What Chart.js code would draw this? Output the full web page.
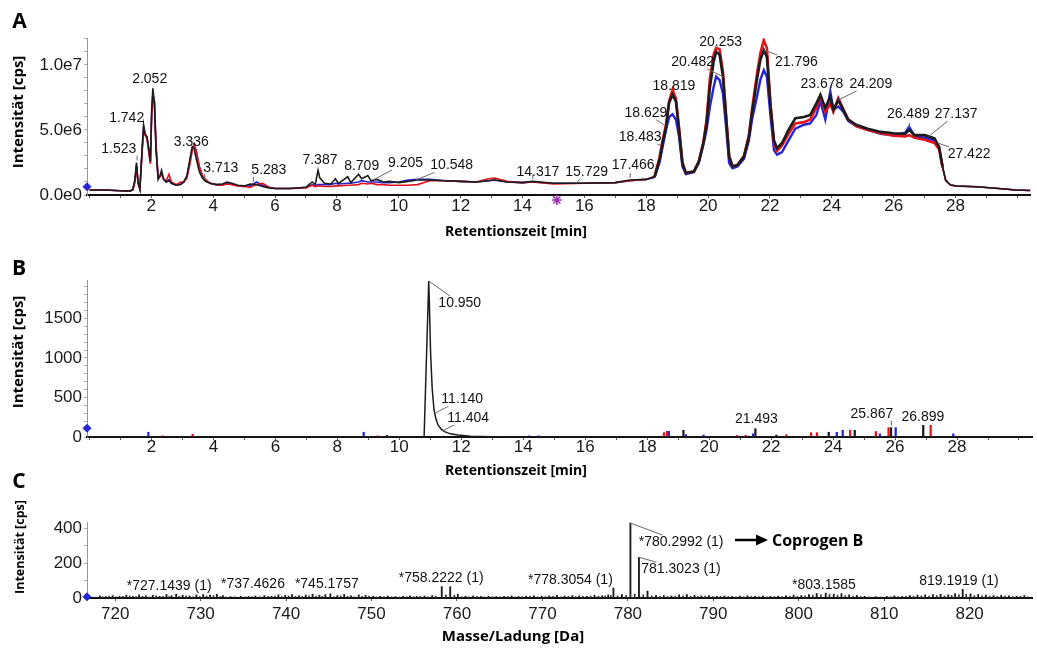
<!DOCTYPE html>
<html><head><meta charset="utf-8">
<script src="https://cdn.jsdelivr.net/npm/chart.js@4.4.1/dist/chart.umd.min.js"></script>
<style>
html,body{margin:0;padding:0;background:#fff;}
#wrap{position:relative;width:1037px;height:653px;overflow:hidden;background:#fff;}
canvas{position:absolute;left:0;}
</style></head><body>
<div id="wrap">
<canvas id="cA" width="1037" height="250" style="top:0px;width:1037px;height:250px"></canvas>
<canvas id="cB" width="1037" height="240" style="top:250px;width:1037px;height:240px"></canvas>
<canvas id="cC" width="1037" height="193" style="top:460px;width:1037px;height:193px"></canvas>
</div>
<script>
// ================= DATA =================
// ---- Panel A: total ion chromatograms (values in units of 1e6 cps) ----
const timesA = [
  0, 0.5, 1.0, 1.3, 1.40,
  1.47, 1.52, 1.57, 1.63, 1.70, 1.75, 1.80, 1.86, 1.93, 1.97,
  2.01, 2.05, 2.10, 2.15, 2.22, 2.28, 2.33, 2.40, 2.48, 2.57,
  2.65, 2.80, 2.95, 3.05, 3.15, 3.25, 3.32, 3.38, 3.45, 3.55,
  3.65, 3.75, 3.90, 4.10, 4.30, 4.45, 4.60, 4.80, 5.00, 5.20,
  5.40, 5.60, 5.80, 6.00, 6.50, 7.00, 7.20, 7.30, 7.39, 7.45,
  7.60, 7.80, 7.95, 8.05, 8.35, 8.45, 8.70, 8.80, 9.00, 9.10,
  9.30, 9.50, 9.70, 10.0, 10.3, 10.6, 11.0, 11.5, 12.0, 12.5,
  12.9, 13.1, 13.5, 14.0, 14.32, 15.0, 16.0, 17.0, 17.47, 18.0,
  18.27, 18.43, 18.53, 18.64, 18.74, 18.85, 18.96, 19.06, 19.17, 19.28,
  19.54, 19.70, 19.85, 19.95, 20.06, 20.18, 20.26, 20.37, 20.48, 20.58,
  20.68, 20.79, 20.95, 21.16, 21.32, 21.42, 21.58, 21.69, 21.80, 21.90,
  22.02, 22.13, 22.23, 22.39, 22.60, 22.82, 23.10, 23.30, 23.50, 23.63,
  23.79, 23.95, 24.05, 24.21, 24.37, 24.53, 24.79, 25.16, 25.58, 26.00,
  26.37, 26.50, 26.68, 27.00, 27.32, 27.47, 27.58, 27.68, 27.84, 28.05,
  28.68, 29.30, 29.95, 30.42
];
const blackA = [
  0.38, 0.38, 0.33, 0.30, 0.40,
  1.2, 2.5, 1.0, 0.45, 3.5, 5.4, 4.7, 4.5, 3.4, 2.6,
  6.5, 8.2, 7.0, 3.5, 1.2, 1.5, 1.9, 1.2, 1.0, 1.1,
  0.9, 0.75, 0.8, 1.0, 1.5, 2.8, 3.7, 3.6, 2.8, 1.8,
  1.3, 1.05, 0.9, 0.8, 0.85, 1.0, 0.9, 0.75, 0.7, 0.85,
  0.8, 0.65, 0.55, 0.5, 0.5, 0.6, 1.0, 0.8, 1.9, 1.3,
  0.9, 0.85, 1.25, 0.9, 1.4, 0.95, 1.6, 1.25, 1.5, 1.1,
  1.2, 1.0, 1.05, 0.95, 1.05, 1.15, 1.15, 1.1, 1.05, 1.0,
  1.1, 1.15, 1.0, 0.95, 1.05, 0.9, 0.9, 0.95, 1.15, 1.2,
  1.4, 2.7, 4.0, 5.25, 7.1, 7.7, 7.2, 5.0, 2.45, 1.7,
  1.8, 2.55, 4.0, 5.5, 8.3, 10.25, 11.0, 10.8, 9.1, 6.0,
  2.95, 2.2, 2.3, 2.95, 4.5, 6.3, 8.85, 10.4, 11.15, 10.6,
  6.8, 4.2, 3.6, 4.0, 5.0, 5.9, 6.0, 6.15, 7.05, 7.7,
  6.7, 7.55, 6.55, 7.3, 6.55, 5.8, 5.4, 5.1, 4.85, 4.75,
  4.7, 5.0, 4.6, 4.6, 4.35, 3.7, 2.2, 1.15, 0.77, 0.69,
  0.64, 0.52, 0.38, 0.35
];
const redA = [
  0.38, 0.38, 0.33, 0.30, 0.40,
  1.0, 2.2, 0.9, 0.45, 3.2, 5.0, 4.6, 4.3, 3.0, 2.4,
  6.0, 7.4, 7.2, 3.8, 1.3, 1.4, 1.6, 1.2, 1.1, 1.6,
  1.0, 0.8, 1.0, 1.0, 1.3, 2.4, 3.4, 3.9, 3.4, 2.2,
  1.5, 1.2, 0.9, 0.8, 0.75, 0.85, 0.8, 0.7, 0.65, 0.6,
  0.8, 0.9, 0.6, 0.5, 0.5, 0.55, 0.75, 0.65, 0.7, 0.7,
  0.65, 0.65, 0.7, 0.7, 0.75, 0.75, 0.8, 0.9, 0.85, 0.9,
  0.8, 0.8, 0.75, 0.75, 0.75, 0.8, 1.1, 1.1, 1.05, 1.0,
  1.25, 1.3, 1.05, 0.95, 1.0, 0.85, 0.9, 0.95, 1.1, 1.2,
  1.45, 2.9, 4.2, 5.4, 7.2, 8.1, 7.4, 5.2, 2.5, 1.7,
  1.8, 2.6, 4.1, 5.8, 9.0, 10.8, 11.3, 11.2, 9.5, 6.2,
  3.0, 2.2, 2.3, 3.0, 4.6, 6.6, 9.3, 10.9, 11.9, 11.3,
  6.9, 4.0, 3.4, 3.8, 4.7, 5.5, 5.6, 5.8, 6.7, 7.6,
  6.4, 7.0, 6.4, 7.45, 6.6, 5.8, 5.3, 5.0, 4.75, 4.55,
  4.5, 4.6, 4.4, 4.25, 4.0, 3.5, 2.1, 1.1, 0.75, 0.68,
  0.63, 0.52, 0.38, 0.35
];
const blueA = [
  0.38, 0.38, 0.33, 0.30, 0.40,
  1.1, 2.3, 1.0, 0.45, 3.4, 5.2, 4.6, 4.4, 3.2, 2.5,
  6.2, 7.8, 7.2, 3.9, 1.3, 1.4, 1.7, 1.2, 1.0, 1.2,
  0.9, 0.75, 0.85, 1.0, 1.4, 2.6, 3.5, 3.9, 3.4, 2.2,
  1.5, 1.15, 0.9, 0.8, 0.8, 0.9, 0.85, 0.7, 0.65, 0.7,
  1.0, 0.75, 0.6, 0.5, 0.5, 0.6, 0.8, 0.7, 0.8, 0.8,
  0.8, 0.8, 0.9, 0.85, 0.9, 0.9, 1.0, 1.1, 1.0, 1.0,
  1.0, 0.95, 0.95, 1.0, 1.15, 1.2, 1.2, 1.1, 1.05, 1.0,
  1.1, 1.15, 1.0, 0.95, 1.0, 0.9, 0.9, 0.95, 1.1, 1.2,
  1.35, 2.5, 3.7, 5.0, 6.0, 6.2, 5.8, 4.5, 2.2, 1.6,
  1.75, 2.45, 3.9, 5.0, 6.8, 8.3, 9.1, 8.85, 7.8, 5.25,
  2.45, 2.05, 2.2, 2.8, 4.2, 5.8, 7.55, 8.85, 9.6, 9.1,
  6.0, 3.45, 3.1, 3.3, 4.2, 5.1, 5.4, 5.5, 6.15, 7.2,
  5.8, 7.95, 6.55, 6.8, 6.4, 5.7, 5.3, 5.0, 4.7, 4.6,
  4.8, 5.25, 4.5, 4.4, 4.2, 3.6, 2.15, 1.12, 0.76, 0.69,
  0.64, 0.52, 0.38, 0.35
];
const markerA = [-0.08, 0.64];        // blue diamond at the axis (t, 1e6 cps)
const starA = [15.11, -0.385];        // purple asterisk under the axis
const xLabelsA = [2,4,6,8,10,12,14,16,18,20,22,24,26,28];
const yLabelsA = [0, 5e6, 1e7];
const peakTextA = ['1.523','1.742','2.052','3.336','3.713','5.283','7.387','8.709','9.205','10.548','14.317','15.729','17.466','18.483','18.629','18.819','20.253','20.482','21.796','23.678','24.209','26.489','27.137','27.422'];
const peakTA = [1.523,1.742,2.052,3.336,3.713,5.283,7.387,8.709,9.205,10.548,14.317,15.729,17.466,18.483,18.629,18.819,20.253,20.482,21.796,23.678,24.209,26.489,27.137,27.422];
const peakVA = [2.5,5.4,8.2,3.7,1.1,0.85,1.9,1.6,1.2,1.15,1.05,0.9,1.15,3.8,5.3,7.7,11.0,9.1,11.15,7.7,7.3,5.0,4.5,4.0];

// ---- Panel B: extracted ion chromatogram ----
const timesB = [-0.08, 10.80, 10.95, 10.97, 11.01, 11.06, 11.12, 11.18, 11.25, 11.35, 11.46, 11.65, 11.89, 12.30, 13.00, 14.00, 30.42];
const valsB  = [0, 0, 1975, 1700, 1060, 620, 342, 230, 152, 100, 67, 40, 25, 10, 3, 0, 0];
const blackSpikeT = [9.6, 19.17, 21.493, 22.17, 23.86, 24.7, 25.87, 26.91];
const blackSpikeH = [20, 85, 105, 25, 60, 85, 118, 148];
const redSpikeT = [2.35, 3.33, 9.3, 18.54, 18.64, 20.9, 21.18, 22.49, 23.29, 23.48, 24.55, 25.38, 25.79, 27.15];
const redSpikeH = [15, 35, 15, 55, 72, 20, 20, 30, 55, 55, 85, 70, 118, 148];
const blueSpikeT = [1.9, 8.85, 14.2, 14.5, 18.7, 19.25, 19.82, 21.42, 24.12, 24.31, 25.51, 26.02, 27.88];
const blueSpikeH = [60, 60, 15, 15, 72, 30, 25, 40, 60, 85, 40, 118, 40];
const markerB = [-0.08, 110];
const yLabelsB = [0, 500, 1000, 1500];
const peakTextB = ['10.950','11.140','11.404','21.493','25.867','26.899'];
const peakTB = [10.95, 11.14, 11.404, 21.493, 25.867, 26.899];
const peakVB = [1975, 300, 80, 105, 118, 148];

// ---- Panel C: mass spectrum ----
const massC = [
  718.2, 718.9, 719.7, 720.5, 721.3, 722.1, 722.8, 723.6, 724.4, 725.2,
  726.0, 726.6, 727.14, 727.9, 728.7, 729.5, 730.3, 731.1, 731.9, 732.6,
  733.5, 734.7, 735.6, 736.4, 737.46, 738.3, 739.1, 739.9, 740.7, 741.5,
  742.3, 743.1, 743.9, 744.6, 745.18, 746.0, 746.8, 747.6, 748.5, 749.3,
  750.2, 751.0, 751.9, 752.8, 753.7, 754.5, 755.3, 756.2, 757.1, 758.22,
  759.21, 760.1, 761.0, 761.9, 762.8, 763.7, 764.6, 765.5, 766.4, 767.2,
  768.1, 769.0, 769.9, 770.8, 771.7, 772.6, 773.5, 774.3, 775.2, 776.1,
  777.0, 777.7, 778.31, 779.3, 780.30, 781.30, 782.30, 783.3, 784.2, 785.1,
  786.0, 786.9, 787.8, 788.6, 789.5, 790.4, 791.3, 792.2, 793.1, 794.0,
  794.9, 795.8, 796.7, 797.6, 798.5, 799.4, 800.3, 801.2, 802.1, 803.16,
  804.1, 805.0, 805.9, 806.8, 807.7, 809.0, 810.3, 811.2, 812.1, 813.0,
  813.9, 814.8, 815.7, 816.6, 817.5, 818.3, 819.19, 820.1, 821.0, 821.9,
  822.8, 823.7, 824.6, 825.5, 826.4
];
const intC = [
  12, 8, 14, 10, 16, 9, 18, 12, 15, 10,
  20, 13, 22, 16, 12, 18, 20, 17, 21, 14,
  8, 10, 9, 12, 14, 10, 18, 15, 20, 13,
  17, 22, 16, 19, 24, 14, 21, 12, 18, 15,
  10, 9, 11, 8, 10, 12, 9, 11, 14, 65,
  65, 22, 10, 12, 9, 11, 8, 10, 12, 9,
  11, 13, 10, 12, 15, 11, 14, 12, 10, 16,
  13, 18, 57, 20, 430, 234, 40, 16, 14, 12,
  18, 20, 15, 12, 14, 10, 12, 9, 11, 13,
  10, 12, 9, 11, 13, 15, 14, 20, 26, 28,
  22, 25, 18, 15, 10, 8, 10, 12, 9, 14,
  16, 18, 20, 22, 18, 25, 50, 24, 20, 17,
  14, 16, 12, 10, 14
];
// minor (isotope/noise) sticks between the listed ones
const massC2 = [
  718.55, 719.3, 720.1, 720.9, 721.7, 722.45, 723.2, 724.0, 724.8, 725.6,
  726.3, 727.5, 728.3, 729.1, 729.9, 730.7, 731.5, 732.3, 733.0, 734.0,
  735.2, 736.0, 736.9, 737.9, 738.7, 739.5, 740.3, 741.1, 741.9, 742.7,
  743.5, 744.25, 745.6, 746.4, 747.2, 748.0, 748.9, 749.7, 750.6, 751.45,
  752.35, 753.25, 754.1, 754.9, 755.7, 756.6, 757.5, 758.7, 759.7, 760.55,
  761.45, 762.35, 763.25, 764.15, 765.05, 765.95, 766.8, 767.65, 768.55, 769.45,
  770.35, 771.25, 772.15, 773.05, 773.9, 774.75, 775.65, 776.55, 777.35, 778.0,
  778.8, 779.8, 780.8, 781.8, 782.8, 783.75, 784.65, 785.55, 786.45, 787.35,
  788.2, 789.05, 789.95, 790.85, 791.75, 792.65, 793.55, 794.45, 795.35, 796.25,
  797.15, 798.05, 798.95, 799.85, 800.75, 801.65, 802.6, 803.6, 804.55, 805.45,
  806.35, 807.25, 808.2, 809.6, 810.75, 811.65, 812.55, 813.45, 814.35, 815.25,
  816.15, 817.05, 817.9, 818.75, 819.6, 820.55, 821.45, 822.35, 823.25, 824.15,
  825.05, 825.95, 826.8
];
const intC2 = [
  7, 11, 6, 9, 12, 8, 10, 6, 13, 9,
  8, 10, 12, 7, 9, 11, 14, 8, 6, 7,
  6, 8, 7, 9, 11, 8, 12, 10, 9, 13,
  11, 9, 8, 12, 10, 7, 9, 11, 6, 8,
  7, 6, 8, 7, 9, 6, 10, 18, 16, 8,
  7, 9, 6, 8, 7, 9, 6, 8, 10, 7,
  8, 9, 7, 10, 8, 9, 11, 10, 12, 14,
  12, 16, 22, 18, 12, 10, 9, 11, 12, 10,
  9, 11, 8, 10, 9, 7, 8, 9, 8, 7,
  9, 8, 10, 9, 12, 16, 18, 20, 15, 14,
  11, 9, 7, 6, 7, 8, 9, 10, 12, 11,
  14, 12, 15, 18, 22, 14, 12, 10, 9, 11,
  8, 10, 7
];
const markerC = [716.7, 7];
const xLabelsC = [720, 730, 740, 750, 760, 770, 780, 790, 800, 810, 820];
const yLabelsC = [0, 200, 400];
const peakTextC = ['*727.1439 (1)','*737.4626','*745.1757','*758.2222 (1)','*778.3054 (1)','*780.2992 (1)','781.3023 (1)','*803.1585','819.1919 (1)'];
const peakMC = [727.1439, 737.4626, 745.1757, 758.2222, 778.3054, 780.2992, 781.3023, 803.1585, 819.1919];
const peakIC = [15, 12, 12, 65, 57, 430, 234, 28, 50];
const compoundName = 'Coprogen B';

// ================= STYLE / LAYOUT =================
const TICKF = '"Liberation Sans", Arial, sans-serif';
const TITLEF = '"Open Sans", sans-serif';
const BLACK = '#1c1c1c', RED = '#e3121b', BLUE = '#2424d8', PURPLE = '#9b30a8';

const layoutA = [
  [-17.8,-13.5,'mark'],[-16.7,-6.8,''],[-3.3,-9.4,''],[-1.3,-4.4,''],[16.4,-12.2,'mark'],[16,-14,'mark'],
  [2,-10.3,''],[2.8,-8.2,''],[31.4,-16.4,'leader'],[36,-14.5,'leader'],[5.6,-9.4,'mark'],[10.6,-11.3,'leader'],
  [3.5,-15,'mark'],[-21.1,-8.6,'leader'],[-19.7,-13.1,'leader'],[2.4,-8.9,''],[4.7,-10,''],[-30.4,-14.7,'leader'],
  [32.7,12,'leader'],[0,-10.9,''],[32.5,-16.1,'leader'],[-0.5,-16,'mark'],[27.3,-22.5,'leader'],[31.4,11,'leader']
];
const layoutB = [[31,22,'leader'],[27.6,-14,'leader'],[25.4,-12.7,'leader'],[1,-9.7,''],[-19,-13.7,'mark'],[0,-8.3,'']];
const layoutC = [[-7,-9.4,''],[-11.4,-12,''],[-3.5,-12,''],[-0.6,-8.7,''],[-43,-8,''],[50.7,19,'leader'],[42,12,'leader'],[-1.8,-8,''],[-3.8,-8.3,'']];

function pts(xs, ys, k) { return xs.map((x, i) => ({x: x, y: ys[i] * (k || 1)})); }
function tickRange(a, b, step) { const out = []; for (let i = 0; a + i * step <= b + 1e-9; i++) out.push(Math.round((a + i * step) * 1000) / 1000); return out; }
const near = (arr, v, eps) => arr.some(l => Math.abs(l - v) < eps);

function makeDeco(cfg) {
  return {
    id: 'deco' + cfg.letter,
    afterDraw(chart) {
      const ctx = chart.ctx, xs = chart.scales.x, ys = chart.scales.y;
      ctx.save();
      ctx.fillStyle = '#000'; ctx.textAlign = 'center'; ctx.textBaseline = 'middle';
      ctx.font = 'bold 21px ' + TITLEF;
      ctx.fillText(cfg.letter, cfg.letterPos[0], cfg.letterPos[1]);
      ctx.font = 'bold ' + cfg.xTitleSize + 'px ' + TITLEF;
      ctx.fillText(cfg.xTitle, cfg.xTitlePos[0], cfg.xTitlePos[1]);
      ctx.save();
      ctx.translate(cfg.yTitlePos[0], cfg.yTitlePos[1]);
      ctx.rotate(-Math.PI / 2);
      ctx.font = 'bold ' + cfg.yTitleSize + 'px ' + TITLEF;
      ctx.fillText(cfg.yTitle, 0, 0);
      ctx.restore();
      ctx.font = '14px ' + TICKF;
      cfg.texts.forEach((txt, i) => {
        const ax = xs.getPixelForValue(cfg.ts[i]);
        const ay = ys.getPixelForValue(cfg.vs[i] * (cfg.k || 1));
        const L = cfg.layout[i];
        const cx = ax + L[0], cy = ay + L[1];
        ctx.fillStyle = '#111';
        ctx.fillText(txt, cx, cy);
        ctx.strokeStyle = '#6a6a6a'; ctx.lineWidth = 1;
        if (L[2] === 'leader') {
          const hw = ctx.measureText(txt).width / 2 + 1, hh = 7;
          const vx = ax - cx, vy = ay - cy;
          const s = Math.min(hw / Math.max(Math.abs(vx), 1e-6), hh / Math.max(Math.abs(vy), 1e-6));
          ctx.beginPath(); ctx.moveTo(cx + vx * s, cy + vy * s); ctx.lineTo(ax, ay); ctx.stroke();
        } else if (L[2] === 'mark') {
          ctx.beginPath(); ctx.moveTo(ax + 0.5, ay - 2); ctx.lineTo(ax + 0.5, ay - 7); ctx.stroke();
        }
      });
      if (cfg.extra) cfg.extra(ctx);
      ctx.restore();
    }
  };
}

function xScale(min, max, tickVals, labels, fitH, pad) {
  return {
    type: 'linear', min: min, max: max, offset: false,
    afterFit: s => { s.height = fitH; },
    afterBuildTicks: s => { s.ticks = tickVals.map(v => ({value: v})); },
    ticks: {
      autoSkip: false, maxRotation: 0, minRotation: 0, padding: pad,
      color: '#1a1a1a', font: {family: TICKF, size: 17, lineHeight: 1},
      callback: v => near(labels, v, 1e-6) ? String(Math.round(v)) : ''
    },
    grid: {drawOnChartArea: false, drawTicks: true, tickLength: 3, color: '#555', offset: false},
    border: {display: true, color: '#111', width: 2}
  };
}
function yScale(max, tickVals, labels, fmt) {
  return {
    type: 'linear', min: 0, max: max,
    afterFit: s => { s.width = 87; },
    afterBuildTicks: s => { s.ticks = tickVals.map(v => ({value: v})); },
    ticks: {
      autoSkip: false, padding: 2,
      color: '#1a1a1a', font: {family: TICKF, size: 17, lineHeight: 1},
      callback: v => near(labels, v, max * 1e-6) ? fmt(v) : ''
    },
    grid: {drawOnChartArea: false, drawTicks: true, tickLength: 3, color: '#aaa'},
    border: {display: true, color: '#999', width: 1}
  };
}
const baseOpts = (padTop, xs, ys) => ({
  responsive: false, animation: false, devicePixelRatio: 1, events: [],
  layout: {padding: {top: padTop, left: 0, right: 0, bottom: 0}},
  plugins: {legend: {display: false}, tooltip: {enabled: false}},
  scales: {x: xs, y: ys}
});
// thicker (noisy-looking) trace in the dense late-eluting region
const lineDs = (data, color, w, wNoisy) => ({
  type: 'line', data: data, borderColor: color, borderWidth: w, pointRadius: 0, tension: 0, fill: false,
  segment: wNoisy ? {borderWidth: c => (c.p0.parsed.x >= 18.2 && c.p1.parsed.x <= 27.6) ? wNoisy : w} : undefined
});
const barDs = (data, color, w) => ({type: 'bar', data: data, backgroundColor: color, borderWidth: 0, barThickness: w, grouped: false});
const markerDs = (p) => ({type: 'scatter', data: [{x: p[0], y: p[1]}], pointStyle: 'rectRot', pointRadius: 4, backgroundColor: BLUE, borderColor: BLUE, clip: false});

// ================= PANEL A =================
new Chart(document.getElementById('cA'), {
  type: 'line',
  data: {datasets: [
    markerDs([markerA[0], markerA[1] * 1e6]),
    {type: 'scatter', data: [{x: starA[0], y: starA[1] * 1e6}], pointStyle: 'star', pointRadius: 5, borderColor: PURPLE, borderWidth: 1.6, clip: false},
    lineDs(pts(timesA, blackA, 1e6), BLACK, 1.6, 2.6),
    lineDs(pts(timesA, redA, 1e6), RED, 1.6, 2.6),
    lineDs(pts(timesA, blueA, 1e6), BLUE, 1.6, 2.4)
  ]},
  options: baseOpts(38, xScale(-0.08, 30.42, tickRange(0, 30, 1), xLabelsA, 55, 0),
    yScale(12.07e6, tickRange(0, 12e6, 1e6), yLabelsA, v => (Math.round(v / 1e5) * 1e5).toExponential(1).replace('+', ''))),
  plugins: [makeDeco({
    letter: 'A', letterPos: [19.5, 22],
    xTitle: 'Retentionszeit [min]', xTitlePos: [516, 232], xTitleSize: 14,
    yTitle: 'Intensität [cps]', yTitlePos: [19, 112], yTitleSize: 15,
    texts: peakTextA, ts: peakTA, vs: peakVA, k: 1e6, layout: layoutA
  })]
});

// ================= PANEL B =================
new Chart(document.getElementById('cB'), {
  type: 'line',
  data: {datasets: [
    markerDs(markerB),
    lineDs(pts(timesB, valsB), BLACK, 1.5),
    barDs(pts(blackSpikeT, blackSpikeH), BLACK, 1.6),
    barDs(pts(redSpikeT, redSpikeH), RED, 1.6),
    barDs(pts(blueSpikeT, blueSpikeH), BLUE, 1.6)
  ]},
  options: baseOpts(30, xScale(-0.08, 30.42, tickRange(0, 30, 1), xLabelsA, 53, -1.5),
    yScale(1987, tickRange(0, 1900, 100), yLabelsB, v => String(Math.round(v)))),
  plugins: [makeDeco({
    letter: 'B', letterPos: [19, 19.5],
    xTitle: 'Retentionszeit [min]', xTitlePos: [516, 221], xTitleSize: 14,
    yTitle: 'Intensität [cps]', yTitlePos: [19, 102], yTitleSize: 15,
    texts: peakTextB, ts: peakTB, vs: peakVB, layout: layoutB
  })]
});

// ================= PANEL C =================
new Chart(document.getElementById('cC'), {
  type: 'line',
  data: {datasets: [
    markerDs(markerC),
    barDs(pts(massC, intC), BLACK, 1.2),
    barDs(pts(massC2, intC2), '#333', 1)
  ]},
  options: baseOpts(62, xScale(716.7, 827.3, tickRange(720, 820, 10), xLabelsC, 55, 4.5),
    yScale(436, tickRange(0, 400, 100), yLabelsC, v => String(Math.round(v)))),
  plugins: [makeDeco({
    letter: 'C', letterPos: [19, 22],
    xTitle: 'Masse/Ladung [Da]', xTitlePos: [513, 177], xTitleSize: 15,
    yTitle: 'Intensität [cps]', yTitlePos: [20, 87], yTitleSize: 12.5,
    texts: peakTextC, ts: peakMC, vs: peakIC, layout: layoutC,
    extra: (ctx) => {
      ctx.strokeStyle = '#000'; ctx.fillStyle = '#000'; ctx.lineWidth = 2.5;
      ctx.beginPath(); ctx.moveTo(735, 80); ctx.lineTo(758, 80); ctx.stroke();
      ctx.beginPath(); ctx.moveTo(768, 80); ctx.lineTo(756, 74.5); ctx.lineTo(756, 85.5); ctx.closePath(); ctx.fill();
      ctx.textAlign = 'left'; ctx.font = 'bold 16px ' + TITLEF;
      ctx.fillText(compoundName, 772, 81);
    }
  })]
});
</script>
</body></html>
